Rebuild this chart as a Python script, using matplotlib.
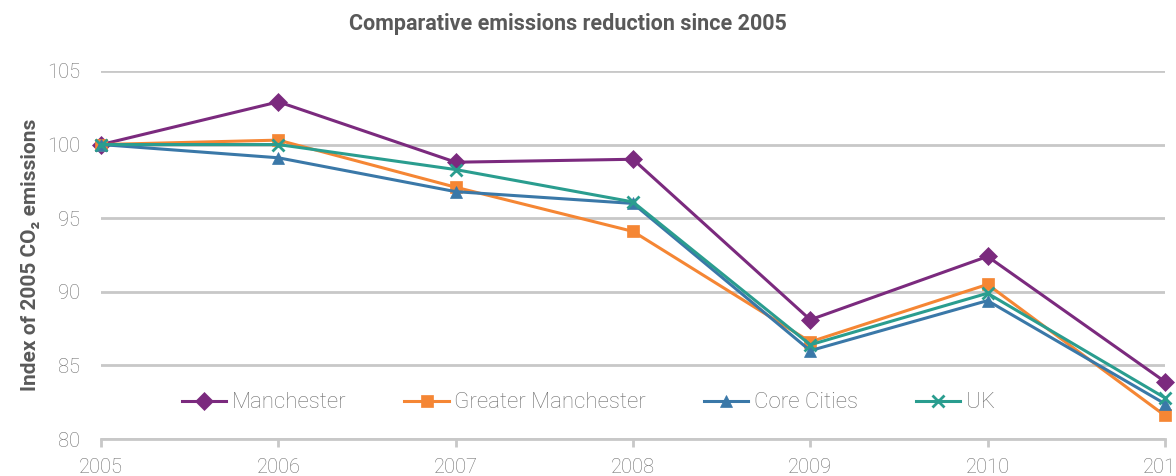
import matplotlib.pyplot as plt

# index of CO2 emissions, 2005 = 100
years = [2005, 2006, 2007, 2008, 2009, 2010, 2011]
manchester = [100.0, 102.9, 98.8, 99.0, 88.1, 92.4, 83.9]
greater_manchester = [100.0, 100.3, 97.1, 94.1, 86.6, 90.5, 81.6]
core_cities = [100.0, 99.1, 96.8, 96.0, 86.0, 89.4, 82.4]
uk = [100.0, 100.0, 98.3, 96.1, 86.4, 89.9, 82.8]

series = [
    ('Manchester', manchester, '#7B2A7E', 'D', 9),
    ('Greater Manchester', greater_manchester, '#F58634', 's', 8),
    ('Core Cities', core_cities, '#3A78A8', '^', 9),
    ('UK', uk, '#2A9D8F', 'x', 8),
]

plt.rcParams['font.family'] = ['Roboto', 'DejaVu Sans']

fig = plt.figure(figsize=(11.76, 4.76), dpi=100)
ax = fig.add_axes([0.086, 0.0777, 0.9045, 0.7733])

for name, vals, col, mk, ms in series:
    ax.plot(years, vals, color=col, lw=2.2, marker=mk, markersize=ms,
            markeredgewidth=2 if mk == 'x' else 0.5, markeredgecolor=col,
            label=name, clip_on=False, zorder=3)

ax.set_xlim(2005, 2011)
ax.set_ylim(80, 105)
ax.set_yticks([80, 85, 90, 95, 100, 105])
ax.set_xticks(years)
ax.yaxis.grid(True, color='#C8C8C8', lw=2)
ax.set_axisbelow(True)
for s in ['top', 'right', 'left']:
    ax.spines[s].set_visible(False)
ax.spines['bottom'].set_color('#C8C8C8')
ax.spines['bottom'].set_linewidth(2)
ax.tick_params(axis='y', length=0, pad=15, labelsize=14.5, labelcolor='#6E6E6E')
ax.tick_params(axis='x', length=6, width=2, color='#C8C8C8', pad=8,
               labelsize=14.5, labelcolor='#6E6E6E')
for lbl in ax.get_xticklabels() + ax.get_yticklabels():
    lbl.set_fontweight('light')

ax.set_ylabel('Index of 2005 CO\u2082 emissions', fontsize=15, fontweight='bold',
              color='#595959', labelpad=5)
fig.text(0.483, 0.95, 'Comparative emissions reduction since 2005', ha='center',
         va='center', fontsize=15.5, fontweight='bold', color='#595959')

leg = ax.legend(loc='center', bbox_to_anchor=(0.458, 0.098), ncol=4, frameon=False,
                fontsize=16, handlelength=2.0, columnspacing=2.6, handletextpad=0.25)
for t in leg.get_texts():
    t.set_color('#6E6E6E')
    t.set_fontweight('light')

fig.savefig('out.png')
